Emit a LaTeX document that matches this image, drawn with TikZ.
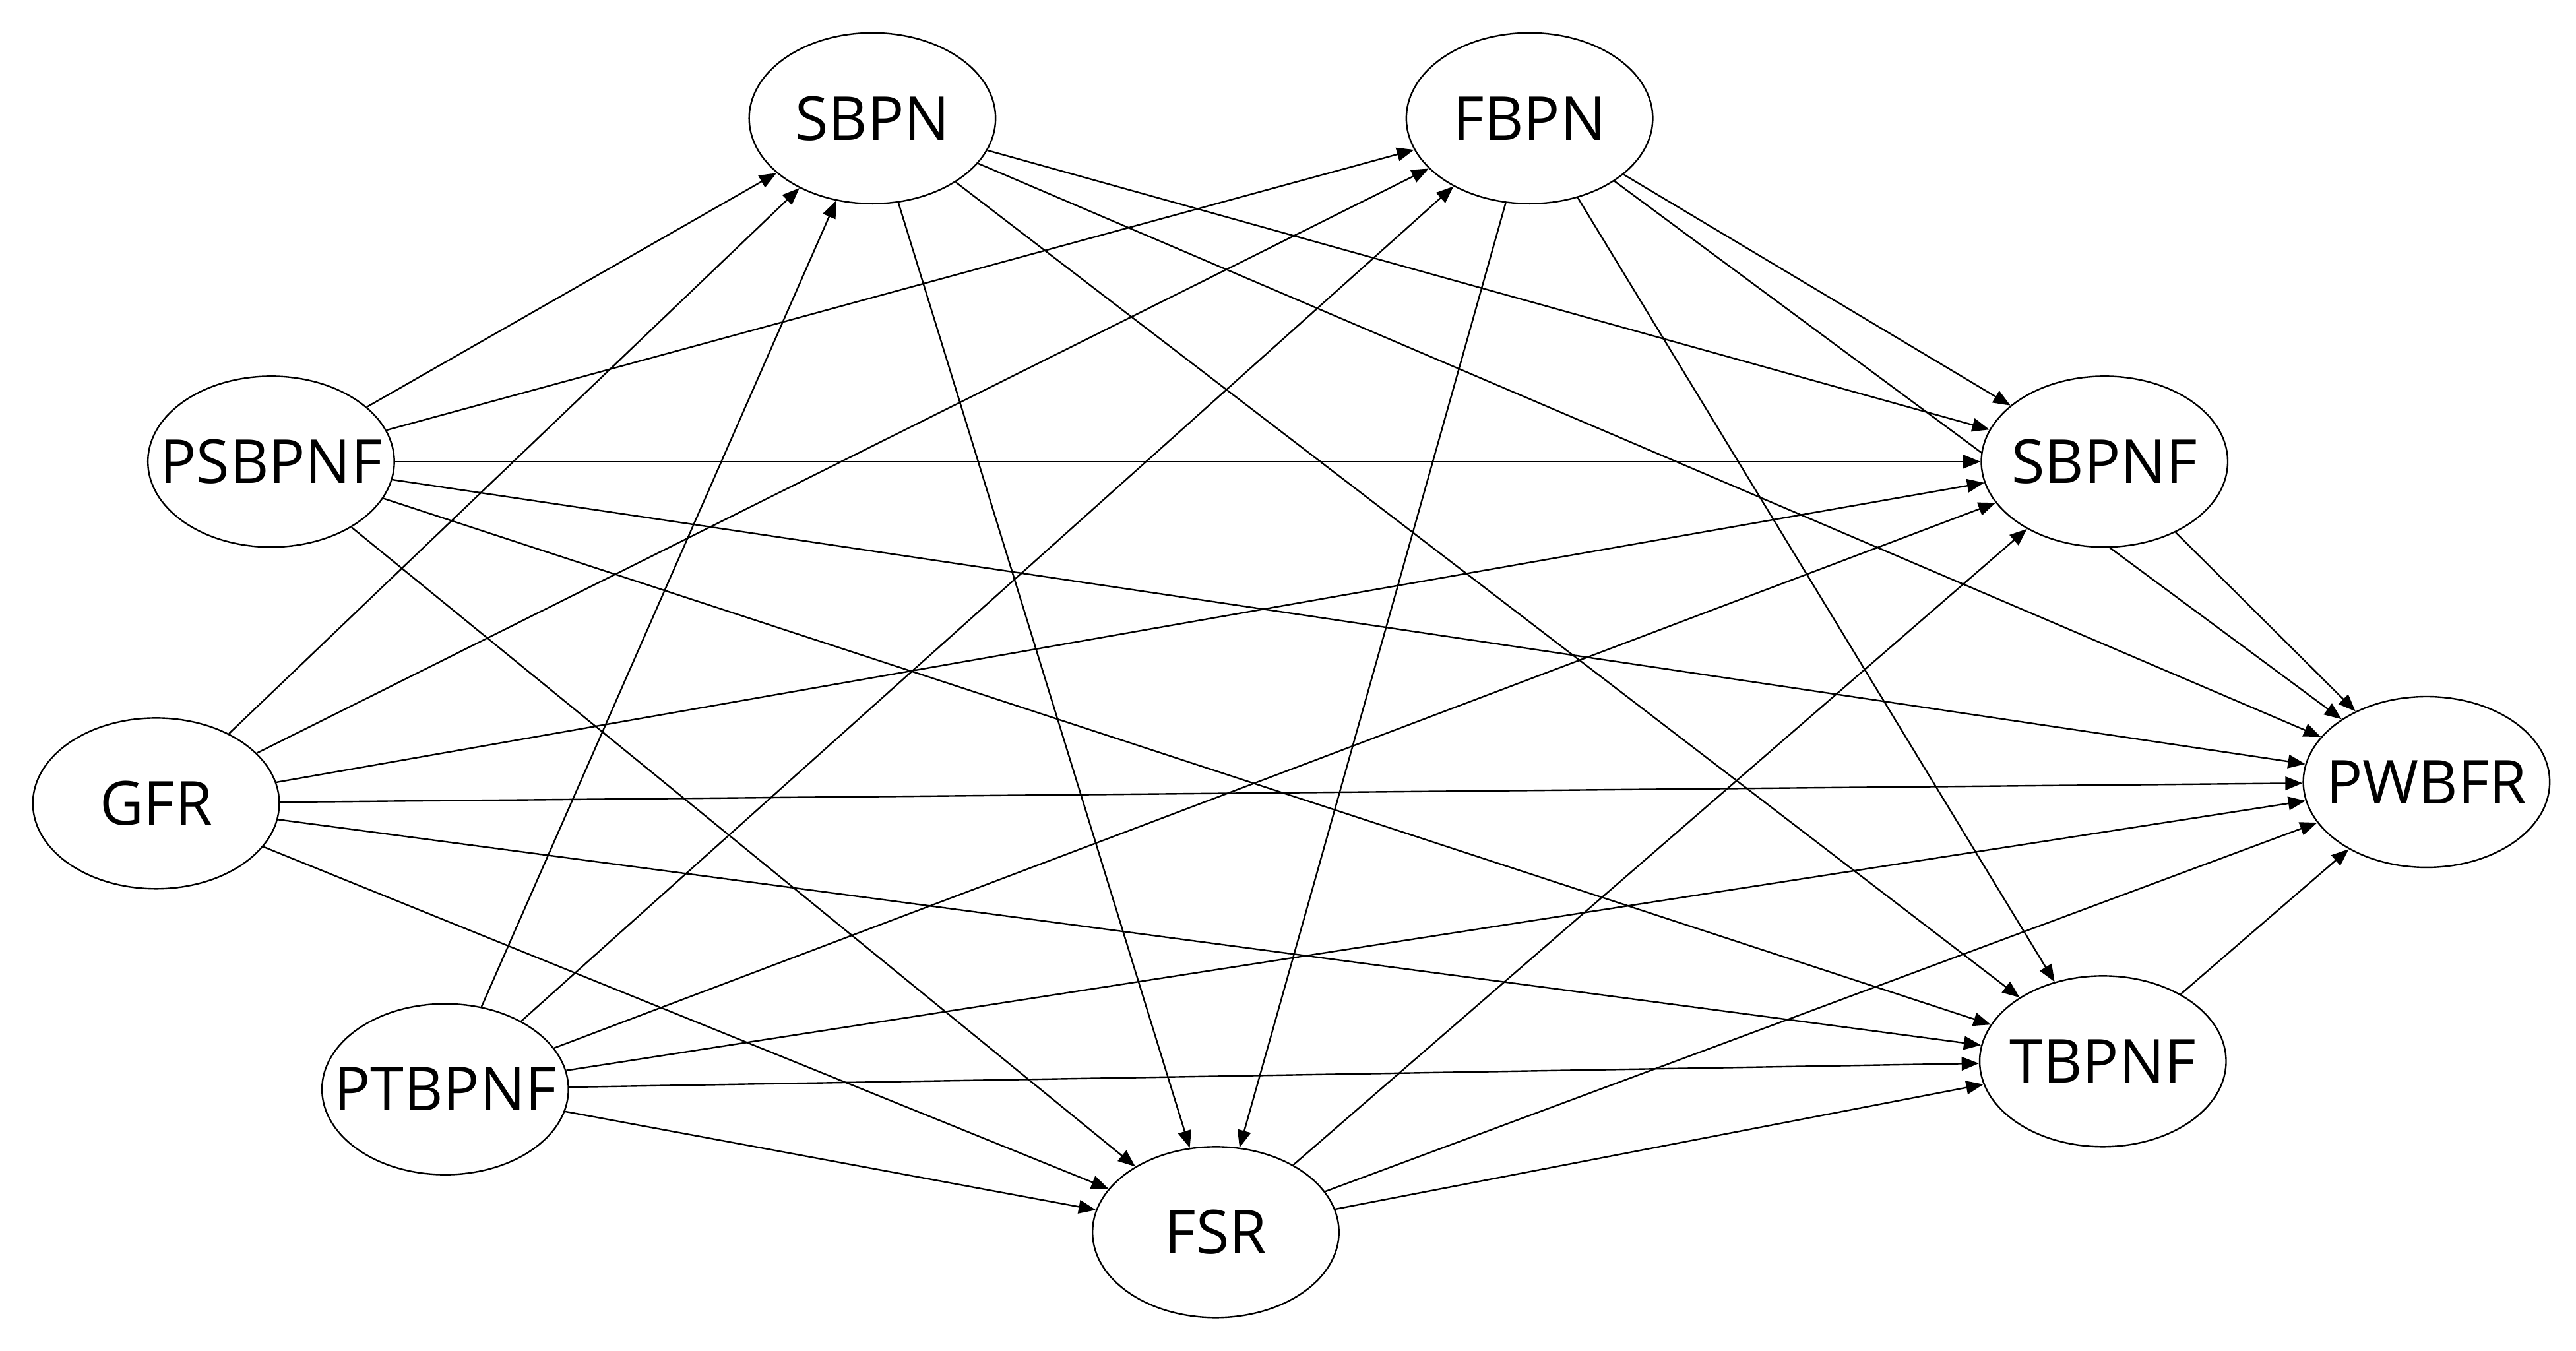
\documentclass[tikz,border=0pt]{standalone}
\usepackage{fontspec}
\setmainfont{Open Sans}
\usetikzlibrary{shapes.geometric,arrows.meta,backgrounds}
\newcommand\nt[1]{\makebox[0pt]{#1}}
\begin{document}
\begin{tikzpicture}[x=0.02cm,y=-0.02cm,
  var/.style={ellipse,draw=black,line width=0.55pt,fill=white,inner sep=0pt,
    minimum width=3cm,minimum height=2.08cm,font=\fontsize{21}{25}\selectfont},
  link/.style={line width=0.55pt,-{Triangle[length=2.1mm,width=1.65mm]}}]
\useasboundingbox (0,0) rectangle (1568,822);
\node[var] (SBPN)   at (531,72)   {\nt{SBPN}};
\node[var] (FBPN)   at (931,72)   {\nt{FBPN}};
\node[var] (PSBPNF) at (165,281)  {\nt{PSBPNF}};
\node[var] (SBPNF)  at (1281,281) {\nt{SBPNF}};
\node[var] (GFR)    at (95,489)   {\nt{GFR}};
\node[var] (PWBFR)  at (1477,476) {\nt{PWBFR}};
\node[var] (PTBPNF) at (271,663)  {\nt{PTBPNF}};
\node[var] (TBPNF)  at (1280,646) {\nt{TBPNF}};
\node[var] (FSR)    at (740,750)  {\nt{FSR}};
\begin{scope}[on background layer]
\foreach \t in {SBPNF,PWBFR,TBPNF,FSR}{
  \draw[link] (SBPN) -- (\t);
  \draw[link] (FBPN) -- (\t);
}
\foreach \s in {PSBPNF,GFR,PTBPNF}{
  \foreach \t in {SBPN,FBPN,SBPNF,PWBFR,TBPNF,FSR}{
    \draw[link] (\s) -- (\t);
  }
}
\foreach \t in {SBPNF,PWBFR,TBPNF}{
  \draw[link] (FSR) -- (\t);
}
\draw[link] (SBPNF) -- (PWBFR);
\draw[link] (TBPNF) -- (PWBFR);
\end{scope}
\end{tikzpicture}
\end{document}
